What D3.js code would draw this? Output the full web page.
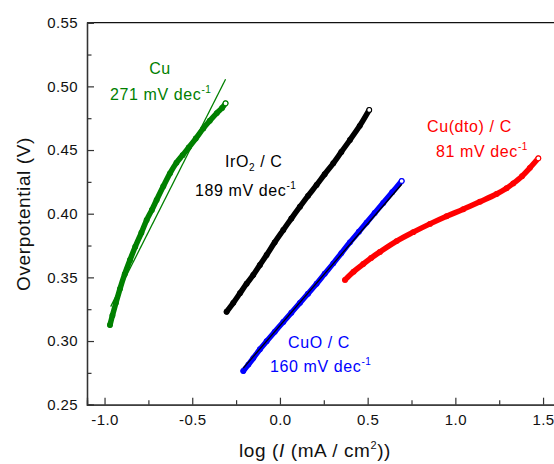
<!DOCTYPE html>
<html><head><meta charset="utf-8">
<script src="https://cdn.jsdelivr.net/npm/d3@7"></script>
<style>
html,body{margin:0;padding:0;background:#fff;overflow:hidden;}
text{font-family:"Liberation Sans",Arial,sans-serif;}
</style></head>
<body><svg id="c" width="554" height="464"></svg>
<script>
// ---- data ----
const xTicks = [-1.0, -0.5, 0.0, 0.5, 1.0, 1.5];
const xMinor = [-0.75, -0.25, 0.25, 0.75, 1.25];
const yTicks = [0.25, 0.30, 0.35, 0.40, 0.45, 0.50, 0.55];
const yMinor = [0.275, 0.325, 0.375, 0.425, 0.475, 0.525];

const cuX = [-0.969,-0.955,-0.935,-0.912,-0.885,-0.855,-0.825,-0.79,-0.76,-0.73,-0.703,-0.665,-0.627,-0.59,-0.555,-0.52,-0.48,-0.437,-0.40,-0.36,-0.33,-0.31];
const cuY = [0.3126,0.320,0.330,0.341,0.3525,0.3636,0.374,0.385,0.395,0.403,0.4108,0.4215,0.4317,0.440,0.446,0.452,0.459,0.467,0.473,0.479,0.483,0.4867];
const cuFitX = [-0.965, -0.31];
const cuFitY = [0.327, 0.5056];

const irX = [-0.304,-0.266,-0.228,-0.19,-0.152,-0.114,-0.076,-0.03,0.019,0.065,0.114,0.16,0.209,0.255,0.304,0.35,0.399,0.455,0.509];
const irY = [0.323,0.330,0.3375,0.345,0.3519,0.3598,0.3676,0.3775,0.3872,0.3962,0.4055,0.414,0.4226,0.431,0.4396,0.4485,0.4579,0.469,0.4815];

const cuoX = [-0.209,-0.18,-0.152,-0.114,-0.076,-0.03,0.019,0.065,0.114,0.16,0.209,0.255,0.304,0.35,0.399,0.45,0.494,0.54,0.589,0.64,0.694];
const cuoY = [0.2765,0.2815,0.2865,0.2935,0.2998,0.3072,0.3150,0.3222,0.3300,0.3372,0.3450,0.3528,0.3610,0.3690,0.3775,0.3858,0.3930,0.4005,0.4085,0.4168,0.4257];
const cuoFitX = [-0.209, 0.694];
const cuoFitY = [0.2787, 0.4231];

const dtoX = [0.371,0.42,0.475,0.52,0.570,0.665,0.760,0.855,0.950,1.045,1.140,1.235,1.292,1.330,1.38,1.425,1.473];
const dtoY = [0.348,0.3545,0.3605,0.3652,0.3700,0.3785,0.3855,0.3920,0.3980,0.4035,0.4094,0.4155,0.4200,0.4238,0.4295,0.4360,0.4435];

const series = [
  {name:"Cu", xs:cuX, ys:cuY, color:"#008000"},
  {name:"IrO2 / C", xs:irX, ys:irY, color:"#000000"},
  {name:"CuO / C", xs:cuoX, ys:cuoY, color:"#0000ff"},
  {name:"Cu(dto) / C", xs:dtoX, ys:dtoY, color:"#ff0000"}
];
const fits = [
  {xs:cuFitX, ys:cuFitY, color:"#008000"},
  {xs:cuoFitX, ys:cuoFitY, color:"#000000"}
];

// ---- chart ----
const svg = d3.select("#c");
const x = d3.scaleLinear().domain([-1.1, 1.6]).range([87, 560.6]);
const y = d3.scaleLinear().domain([0.25, 0.55]).range([404.7, 22.7]);
const axisColor = "#333";

svg.append("line").attr("x1",x(-1.1)).attr("x2",x(1.6)).attr("y1",y(0.55)).attr("y2",y(0.55)).attr("stroke","#111").attr("stroke-width",1.3);
svg.append("line").attr("x1",x(1.6)).attr("x2",x(1.6)).attr("y1",y(0.55)).attr("y2",y(0.25)).attr("stroke","#111").attr("stroke-width",1.3);

const fmt = d3.format(".1f");
const xAxis = d3.axisBottom(x).tickValues(xTicks).tickSize(-7).tickPadding(10).tickFormat(d => fmt(d).replace("−","-"));
const gx = svg.append("g").attr("transform",`translate(0,${y(0.25)})`).call(xAxis);
const xAxisM = d3.axisBottom(x).tickValues(xMinor).tickSize(-4.5).tickFormat("");
const gxm = svg.append("g").attr("transform",`translate(0,${y(0.25)})`).call(xAxisM);

const yAxis = d3.axisLeft(y).tickValues(yTicks).tickSize(-7).tickPadding(9).tickFormat(d3.format(".2f"));
const gy = svg.append("g").attr("transform",`translate(${x(-1.1)},0)`).call(yAxis);
const yAxisM = d3.axisLeft(y).tickValues(yMinor).tickSize(-4.5).tickFormat("");
const gym = svg.append("g").attr("transform",`translate(${x(-1.1)},0)`).call(yAxisM);

[gx,gxm,gy,gym].forEach(g=>{
  g.select(".domain").attr("stroke",axisColor).attr("stroke-width",1.3);
  g.selectAll(".tick line").attr("stroke",axisColor).attr("stroke-width",1.2);
  g.selectAll("text").attr("fill","#111").style("font-size","15px")
   .style("font-family","'Liberation Sans',Arial,sans-serif").style("letter-spacing","0.4px");
});
gx.selectAll(".tick text").attr("dy","0.71em");

const line = d3.line().x(d=>x(d[0])).y(d=>y(d[1])).curve(d3.curveCatmullRom);
const straight = d3.line().x(d=>x(d[0])).y(d=>y(d[1]));
series.forEach(s=>{
  const pts = s.xs.map((v,i)=>[v, s.ys[i]]);
  svg.append("path").attr("d", line(pts)).attr("fill","none").attr("stroke",s.color)
    .attr("stroke-width",5.5).attr("stroke-linecap","round").attr("stroke-linejoin","round");
  svg.append("g").selectAll("circle").data(pts).join("circle")
    .attr("cx",d=>x(d[0])).attr("cy",d=>y(d[1])).attr("r",2.4)
    .attr("fill",(d,i)=> i===pts.length-1 ? "#fff" : "none")
    .attr("stroke",s.color).attr("stroke-width",1.1);
});
fits.forEach(f=>{
  const pts = f.xs.map((v,i)=>[v, f.ys[i]]);
  svg.append("path").attr("d", straight(pts)).attr("fill","none").attr("stroke",f.color).attr("stroke-width",1.3);
});

function label(xp, yp, parts, color, anchor){
  const t = svg.append("text").attr("x",xp).attr("y",yp).attr("fill",color)
    .style("font-size","16px").style("letter-spacing","0.6px").attr("text-anchor",anchor||"start");
  parts.forEach(p=>{
    const ts = t.append("tspan").text(p.t);
    if(p.sup){ ts.attr("dy",-7).style("font-size","10px"); }
    else if(p.sub){ ts.attr("dy",4).style("font-size","10px"); }
    else if(p.back){ ts.attr("dy",p.back); }
  });
  return t;
}
label(160, 74, [{t:"Cu"}], "#008000", "middle");
label(110, 100, [{t:"271 mV dec"},{t:"-1",sup:true}], "#008000");
label(225, 167, [{t:"IrO"},{t:"2",sub:true},{t:" / C",back:-4}], "#000");
label(195, 196, [{t:"189 mV dec"},{t:"-1",sup:true}], "#000");
label(288, 348, [{t:"CuO / C"}], "#0000ff");
label(270, 372, [{t:"160 mV dec"},{t:"-1",sup:true}], "#0000ff");
label(427, 132, [{t:"Cu(dto) / C"}], "#ff0000");
label(436, 157, [{t:"81 mV dec"},{t:"-1",sup:true}], "#ff0000");

const xt = svg.append("text").attr("x",315).attr("y",457).attr("text-anchor","middle")
  .attr("fill","#111").style("font-size","19px").style("letter-spacing","0.6px");
xt.append("tspan").text("log (");
xt.append("tspan").text("I").style("font-style","italic");
xt.append("tspan").text(" (mA / cm");
xt.append("tspan").text("2").attr("dy",-8).style("font-size","11px");
xt.append("tspan").text("))").attr("dy",8);

svg.append("text").attr("transform","translate(30,214) rotate(-90)").attr("text-anchor","middle")
  .attr("fill","#111").style("font-size","19px").style("letter-spacing","0.6px").text("Overpotential (V)");
</script>
</body></html>
